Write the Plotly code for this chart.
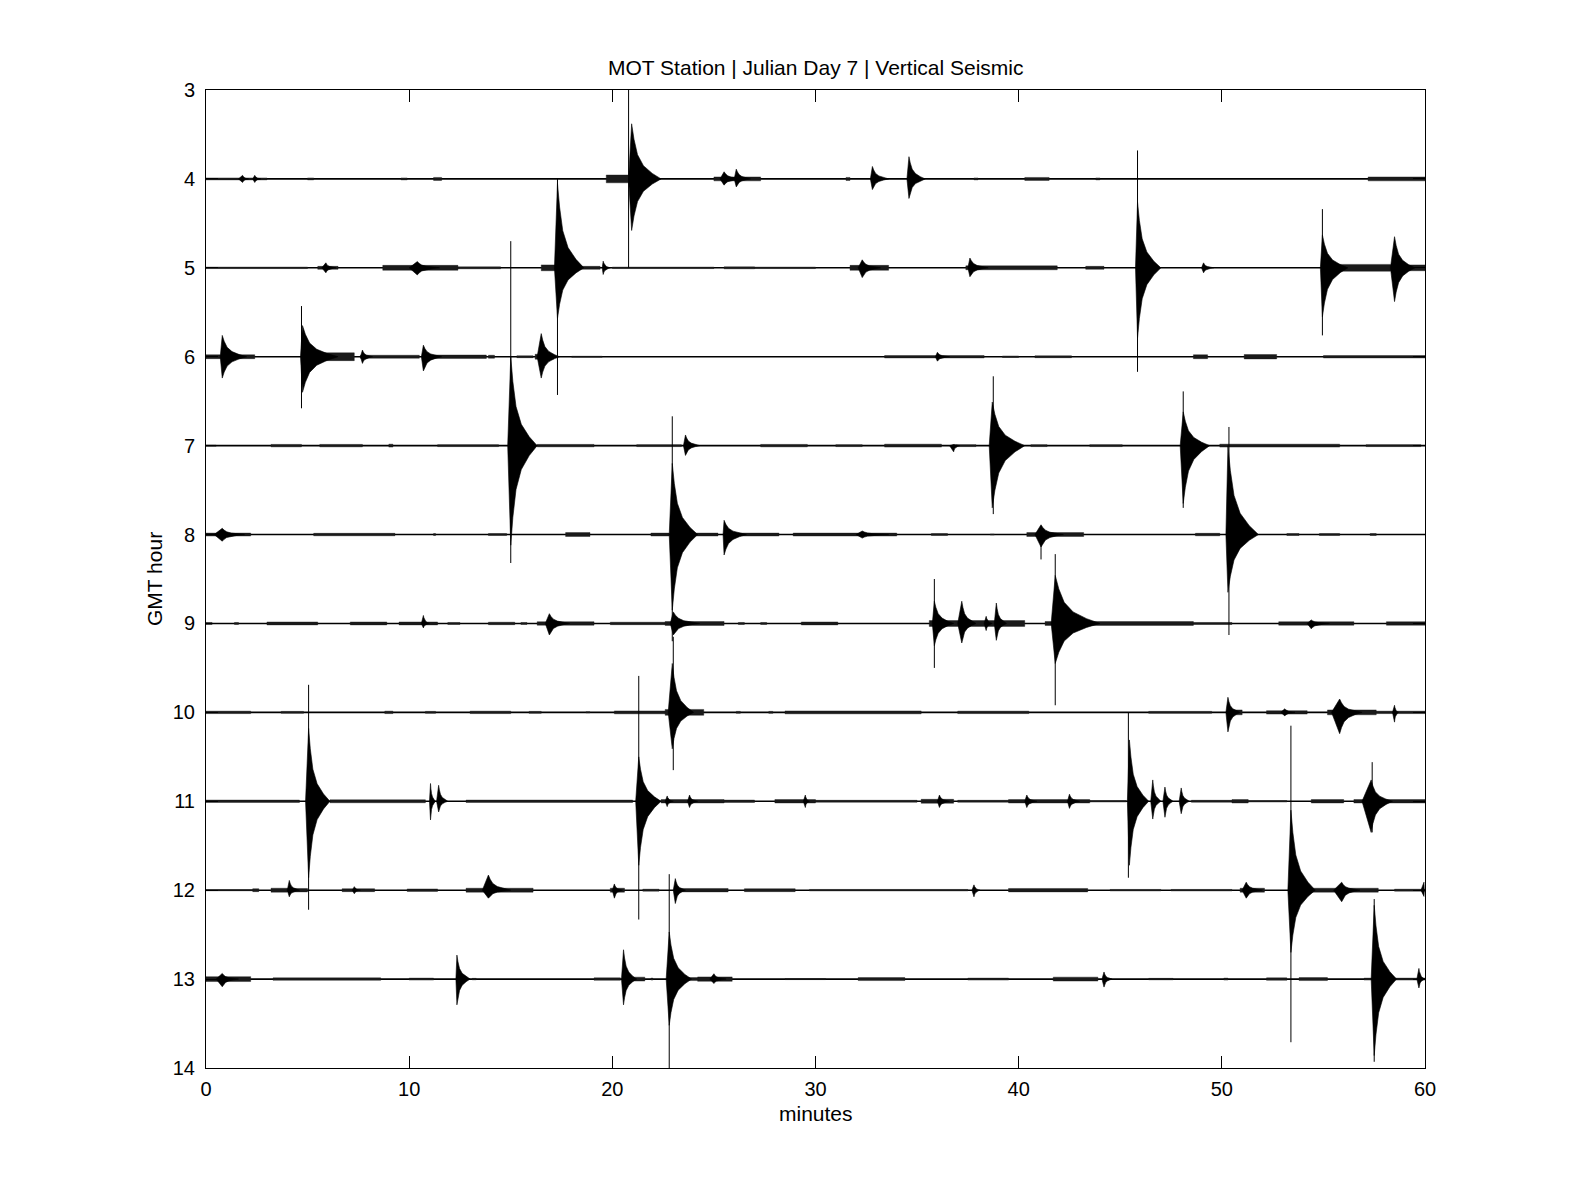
import plotly.graph_objects as go

# ---------------- data ----------------
HOURS = [4, 5, 6, 7, 8, 9, 10, 11, 12, 13]
X_TICKS = [0, 10, 20, 30, 40, 50, 60]
Y_TICKS = list(range(3, 15))
TITLE = "MOT Station | Julian Day 7 | Vertical Seismic"
X_LABEL = "minutes"
Y_LABEL = "GMT hour"

# events: (onset minute, peak minute, end minute, amplitude up, amplitude down) in hours
EVENTS = {
    4: [(1.6, 1.8, 2.1, 0.04, 0.04), (2.3, 2.4, 2.7, 0.04, 0.04),
        (20.8, 20.95, 22.4, 0.62, 0.58), (25.3, 25.5, 26.4, 0.08, 0.07),
        (26.0, 26.1, 26.8, 0.11, 0.09), (32.7, 32.8, 33.6, 0.14, 0.12),
        (34.5, 34.6, 35.4, 0.25, 0.22)],
    5: [(5.7, 5.9, 6.4, 0.056, 0.056), (10.0, 10.4, 11.5, 0.07, 0.08),
        (17.15, 17.3, 18.6, 0.95, 0.57), (19.5, 19.55, 19.9, 0.075, 0.075),
        (32.1, 32.3, 33.2, 0.09, 0.11), (37.5, 37.6, 38.5, 0.11, 0.10),
        (45.75, 45.85, 47.0, 0.74, 0.79), (49.0, 49.1, 49.6, 0.056, 0.056),
        (54.85, 54.95, 56.2, 0.37, 0.55), (58.3, 58.5, 59.5, 0.35, 0.38)],
    6: [(0.7, 0.8, 2.0, 0.24, 0.24), (4.65, 4.75, 6.5, 0.35, 0.40),
        (7.6, 7.7, 8.2, 0.075, 0.075), (10.6, 10.7, 11.6, 0.13, 0.16),
        (16.3, 16.5, 17.4, 0.26, 0.24), (35.9, 36.0, 36.6, 0.05, 0.05)],
    7: [(14.85, 15.0, 16.3, 1.0, 1.12), (23.5, 23.6, 24.3, 0.12, 0.11),
        (36.6, 36.8, 37.1, 0.02, 0.07), (38.55, 38.7, 40.3, 0.49, 0.70),
        (47.95, 48.1, 49.4, 0.38, 0.65)],
    8: [(0.4, 0.8, 1.9, 0.07, 0.075), (22.8, 22.95, 24.2, 0.80, 0.85),
        (25.45, 25.5, 26.6, 0.16, 0.23), (32.0, 32.3, 33.6, 0.04, 0.04),
        (40.8, 41.1, 42.2, 0.11, 0.14), (50.2, 50.3, 51.8, 1.0, 0.65)],
    9: [(10.6, 10.7, 11.0, 0.09, 0.05), (16.7, 16.9, 17.9, 0.11, 0.13),
        (22.85, 23.0, 24.3, 0.13, 0.13), (35.75, 35.85, 36.8, 0.25, 0.25),
        (37.0, 37.2, 37.9, 0.25, 0.22), (38.3, 38.4, 38.7, 0.08, 0.08),
        (38.8, 38.9, 39.4, 0.23, 0.19), (41.6, 41.8, 44.0, 0.54, 0.45),
        (54.2, 54.4, 55.3, 0.04, 0.06)],
    10: [(22.75, 22.95, 24.0, 0.55, 0.41), (50.2, 50.3, 50.9, 0.17, 0.22),
         (52.9, 53.1, 53.6, 0.04, 0.04), (55.4, 55.8, 56.9, 0.15, 0.24),
         (58.4, 58.5, 58.7, 0.08, 0.11)],
    11: [(4.9, 5.05, 6.1, 0.82, 0.86), (11.0, 11.05, 11.3, 0.20, 0.21),
         (11.35, 11.45, 11.9, 0.18, 0.12), (21.15, 21.3, 22.4, 0.50, 0.72),
         (22.6, 22.7, 23.0, 0.06, 0.06), (23.7, 23.8, 24.2, 0.07, 0.07),
         (29.4, 29.5, 29.7, 0.07, 0.07), (36.0, 36.1, 36.6, 0.07, 0.07),
         (40.3, 40.4, 40.9, 0.07, 0.07), (42.4, 42.5, 43.0, 0.08, 0.08),
         (45.35, 45.45, 46.4, 0.69, 0.72), (46.5, 46.6, 47.0, 0.24, 0.20),
         (47.1, 47.2, 47.6, 0.16, 0.18), (47.9, 48.0, 48.4, 0.15, 0.14),
         (56.9, 57.35, 58.4, 0.24, 0.35)],
    12: [(4.0, 4.1, 4.6, 0.11, 0.075), (7.2, 7.3, 7.6, 0.04, 0.04),
         (13.6, 13.9, 15.0, 0.17, 0.09), (20.0, 20.1, 20.5, 0.07, 0.09),
         (23.0, 23.1, 23.6, 0.13, 0.15), (37.7, 37.8, 38.1, 0.06, 0.075),
         (51.0, 51.2, 52.0, 0.09, 0.09), (53.25, 53.4, 54.6, 0.90, 0.70),
         (55.5, 55.9, 56.8, 0.09, 0.13), (59.8, 59.95, 60.0, 0.09, 0.07)],
    13: [(0.5, 0.8, 1.6, 0.064, 0.086), (12.3, 12.35, 13.0, 0.27, 0.29),
         (20.45, 20.55, 21.2, 0.33, 0.29), (22.65, 22.8, 23.9, 0.53, 0.52),
         (24.8, 25.0, 25.6, 0.06, 0.05), (44.1, 44.2, 44.6, 0.08, 0.09),
         (57.35, 57.5, 58.6, 0.83, 0.86), (59.6, 59.7, 60.0, 0.12, 0.10)],
}

# single-sample spikes: (minute, reach up, reach down) in hours
SPIKES = {
    4: [(20.8, 1.0, 1.0)],
    5: [(17.3, 1.0, 1.43), (45.85, 1.32, 1.17), (54.95, 0.66, 0.76)],
    6: [(4.7, 0.57, 0.58)],
    7: [(15.0, 2.3, 1.32), (38.75, 0.78, 0.77), (48.1, 0.61, 0.70)],
    8: [(22.95, 1.33, 1.2), (41.1, 0.0, 0.28), (50.35, 1.21, 1.13)],
    9: [(35.85, 0.50, 0.50), (41.8, 0.78, 0.92)],
    10: [(23.0, 0.85, 0.65)],
    11: [(5.05, 1.31, 1.22), (21.3, 1.41, 1.33), (45.4, 1.0, 0.86), (57.4, 0.44, 0.35)],
    12: [(53.4, 1.85, 1.71)],
    13: [(22.8, 1.18, 1.0), (57.5, 0.90, 0.93)],
}

# background noise stretches: (start minute, end minute, peak half-amplitude) in hours
NOISE = {
    4: [(0, 3, 0.02), (5.0, 5.3, 0.02), (9.6, 9.9, 0.02), (11.2, 11.6, 0.03),
        (19.7, 20.8, 0.08), (25.0, 27.3, 0.04), (31.5, 31.7, 0.03), (37.8, 38.0, 0.02),
        (40.3, 41.5, 0.03), (43.8, 44.0, 0.02), (57.2, 60, 0.04)],
    5: [(0, 5, 0.015), (5.5, 6.5, 0.03), (8.7, 12.4, 0.05), (12.4, 14.5, 0.02),
        (16.5, 17.2, 0.06), (18.3, 19.4, 0.03), (20, 25, 0.015), (25.5, 27, 0.02),
        (27, 30, 0.015), (31.7, 33.6, 0.05), (37.4, 41.9, 0.04), (43.3, 44.2, 0.03),
        (54.9, 58.3, 0.07), (58.3, 60, 0.06)],
    6: [(0, 2.4, 0.04), (4.7, 7.3, 0.08), (7.6, 10.5, 0.03), (10.7, 13.8, 0.035),
        (13.9, 14.2, 0.03), (15.3, 16.1, 0.02), (16.2, 17.1, 0.05), (18.0, 19.5, 0.01),
        (33.4, 38.3, 0.025), (39.2, 40.0, 0.015), (40.8, 42.6, 0.02), (48.6, 49.3, 0.04),
        (51.1, 52.7, 0.045), (55.0, 60, 0.025)],
    7: [(0, 0.5, 0.01), (3.2, 4.7, 0.025), (5.6, 7.7, 0.025), (9.0, 9.2, 0.03),
        (11.4, 14.4, 0.02), (16.3, 19.1, 0.025), (21.2, 23.4, 0.02), (27.3, 29.6, 0.025),
        (31.0, 32.3, 0.02), (33.4, 36.2, 0.03), (36.9, 37.9, 0.02), (40.6, 41.4, 0.02),
        (43.5, 45.1, 0.02), (49.9, 55.8, 0.03), (57.1, 59.8, 0.02)],
    8: [(0, 2.2, 0.03), (5.3, 9.3, 0.025), (11.2, 11.3, 0.02), (13.9, 14.8, 0.02),
        (17.7, 18.9, 0.04), (21.9, 22.8, 0.03), (23.5, 25.2, 0.03), (25.5, 28.2, 0.03),
        (28.9, 34.0, 0.03), (35.7, 36.5, 0.02), (38.6, 38.8, 0.01), (40.4, 43.2, 0.04),
        (48.7, 49.9, 0.025), (53.2, 53.8, 0.02), (54.8, 55.8, 0.02), (57.3, 57.6, 0.02)],
    9: [(0, 0.3, 0.02), (1.4, 1.6, 0.02), (3.0, 5.5, 0.03), (7.1, 8.9, 0.03),
        (9.5, 11.4, 0.03), (11.9, 12.5, 0.02), (13.9, 15.2, 0.025), (15.5, 15.8, 0.02),
        (16.3, 19.1, 0.035), (19.9, 22.6, 0.025), (22.6, 25.5, 0.04), (26.2, 26.5, 0.02),
        (27.3, 27.6, 0.02), (29.3, 31.1, 0.03), (35.6, 40.3, 0.06), (41.3, 48.6, 0.04),
        (48.6, 50.5, 0.02), (52.8, 56.5, 0.035), (58.1, 60, 0.035)],
    10: [(0, 2.2, 0.025), (3.7, 4.8, 0.02), (8.8, 9.2, 0.025), (10.8, 11.3, 0.02),
         (13.0, 15.0, 0.025), (15.9, 16.5, 0.02), (18.7, 18.9, 0.01), (20.1, 22.6, 0.03),
         (22.6, 24.5, 0.06), (26.1, 26.3, 0.02), (27.7, 27.9, 0.02), (28.5, 35.2, 0.03),
         (37.0, 40.5, 0.025), (46.4, 49.5, 0.02), (50.3, 51.0, 0.05), (52.2, 54.2, 0.035),
         (55.2, 57.6, 0.05), (57.6, 60, 0.025)],
    11: [(0, 4.6, 0.025), (6.1, 10.8, 0.03), (12.8, 21.0, 0.025), (22.4, 25.5, 0.035),
         (25.5, 27.0, 0.025), (28.0, 30.0, 0.035), (30.0, 35.0, 0.02), (35.2, 36.8, 0.04),
         (37.0, 39.5, 0.02), (39.5, 43.5, 0.035), (43.5, 45.3, 0.015), (48.5, 50.5, 0.02),
         (50.5, 51.3, 0.035), (51.3, 53.2, 0.015), (54.4, 56.0, 0.035), (56.5, 60, 0.035)],
    12: [(0, 2.3, 0.012), (2.3, 2.6, 0.03), (3.2, 4.0, 0.04), (4.0, 5.0, 0.035),
         (6.7, 8.3, 0.03), (9.9, 11.4, 0.025), (12.8, 16.1, 0.04), (19.9, 20.6, 0.04),
         (21.5, 22.3, 0.02), (23.2, 25.7, 0.035), (26.5, 29.0, 0.03), (29.7, 37.5, 0.015),
         (39.5, 43.4, 0.035), (44.5, 47.0, 0.015), (47.5, 50.5, 0.015), (50.9, 52.1, 0.04),
         (53.5, 57.7, 0.04), (58.5, 60, 0.02)],
    13: [(0, 2.2, 0.05), (3.3, 8.6, 0.025), (10.0, 11.2, 0.02), (13.1, 13.3, 0.015),
         (19.1, 20.4, 0.025), (20.6, 21.6, 0.04), (21.9, 22.0, 0.02), (23.2, 24.2, 0.03),
         (24.2, 25.9, 0.045), (28.5, 30.5, 0.01), (32.1, 34.4, 0.03), (37.5, 39.5, 0.02),
         (41.7, 43.9, 0.04), (46.4, 47.6, 0.015), (50.1, 50.3, 0.02), (52.2, 53.2, 0.025),
         (53.8, 55.2, 0.03), (57.0, 60, 0.02)],
}

# ---------------- drawing style ----------------
CODA_POS = [0.0, 0.08, 0.2, 0.4, 0.7, 1.0]       # fraction of coda length
CODA_SHAPE = [1.0, 0.72, 0.44, 0.24, 0.1, 0.0]   # relative envelope
NOISE_CORE = 0.55                                # solid core of the noise fuzz vs. its peak
FONT = "Liberation Sans, Arial, Helvetica, sans-serif"

nx, ny = [], []
for h in HOURS:
    for (s, e, a) in NOISE.get(h, []):
        c = a * NOISE_CORE
        nx += [s, e, e, s, s, None]
        ny += [h - c, h - c, h + c, h + c, h - c, None]

px, py = [], []
for h in HOURS:
    for (s, p, e, up, dn) in EVENTS.get(h, []):
        ux = [s] + [p + f * (e - p) for f in CODA_POS]
        uy = [h] + [h - up * c for c in CODA_SHAPE]
        lx = [p + f * (e - p) for f in CODA_POS][::-1]
        ly = [h + dn * c for c in CODA_SHAPE][::-1]
        px += ux + lx + [s, None]
        py += uy + ly + [h, None]

sx, sy = [], []
for h in HOURS:
    for (t, up, dn) in SPIKES.get(h, []):
        sx += [t, t, None]
        sy += [h - up, h + dn, None]

bx, by = [], []
for h in HOURS:
    bx += [X_TICKS[0], X_TICKS[-1], None]
    by += [h, h, None]

fig = go.Figure()
fig.add_trace(go.Scatter(x=bx, y=by, mode="lines", line=dict(color="black", width=1.6),
                         hoverinfo="skip", showlegend=False))
fig.add_trace(go.Scatter(x=nx, y=ny, mode="lines", fill="toself", fillcolor="#1a1a1a",
                         line=dict(color="#1a1a1a", width=0.4), hoverinfo="skip",
                         showlegend=False))
fig.add_trace(go.Scatter(x=px, y=py, mode="lines", fill="toself", fillcolor="black",
                         line=dict(color="black", width=0.6), hoverinfo="skip",
                         showlegend=False))
fig.add_trace(go.Scatter(x=sx, y=sy, mode="lines", line=dict(color="black", width=1),
                         hoverinfo="skip", showlegend=False))

axis_common = dict(showgrid=False, zeroline=False, showline=True, linecolor="black",
                   linewidth=1, mirror="allticks", ticks="inside", ticklen=12,
                   tickcolor="black", tickwidth=1,
                   tickfont=dict(family=FONT, size=20, color="black"))

fig.update_layout(
    width=1575, height=1200,
    margin=dict(l=198, r=158, t=82, b=140),
    paper_bgcolor="white", plot_bgcolor="white",
    xaxis=dict(range=[X_TICKS[0], X_TICKS[-1]], tickvals=X_TICKS,
               ticklabelstandoff=3, **axis_common),
    yaxis=dict(range=[Y_TICKS[-1], Y_TICKS[0]], tickvals=Y_TICKS,
               ticklabelstandoff=6, **axis_common),
    annotations=[
        dict(text=TITLE, x=0.5, y=1, xref="paper", yref="paper", xanchor="center",
             yanchor="bottom", yshift=9, showarrow=False,
             font=dict(family=FONT, size=21, color="black")),
        dict(text=X_LABEL, x=0.5, y=0, xref="paper", yref="paper", xanchor="center",
             yanchor="middle", yshift=-45, showarrow=False,
             font=dict(family=FONT, size=21, color="black")),
        dict(text=Y_LABEL, x=0, y=0.5, xref="paper", yref="paper", xanchor="center",
             yanchor="middle", xshift=-52, textangle=-90, showarrow=False,
             font=dict(family=FONT, size=21, color="black")),
    ],
)

fig.write_html("out.html")
